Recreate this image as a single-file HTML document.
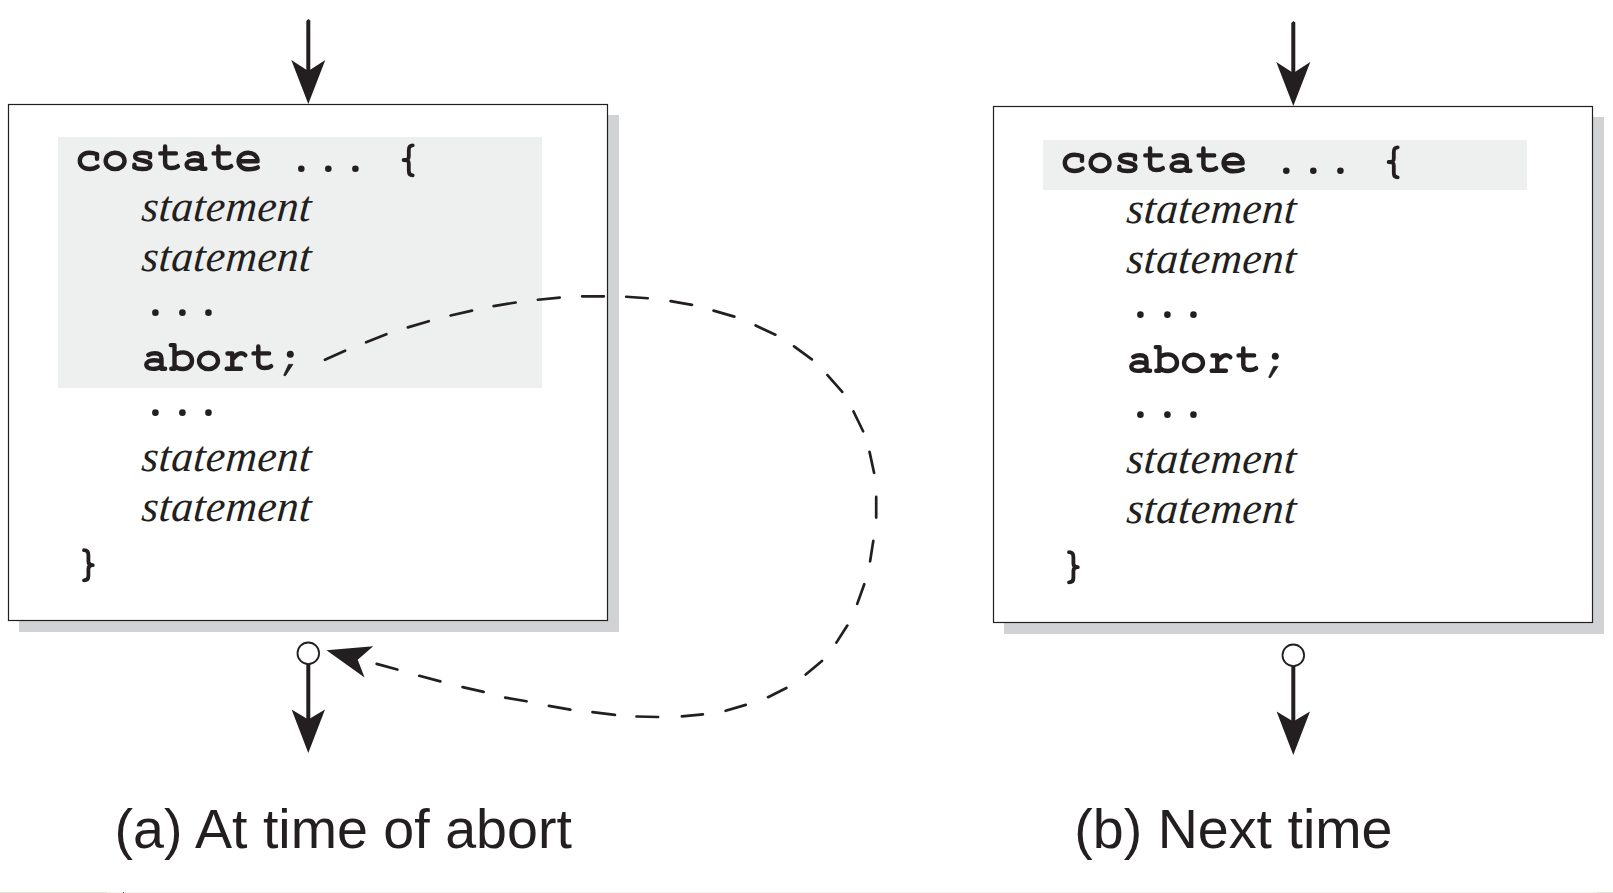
<!DOCTYPE html>
<html><head><meta charset="utf-8"><style>
html,body{margin:0;padding:0;background:#fff;width:1613px;height:893px;overflow:hidden}
svg{display:block}
.m{font-family:"Liberation Mono",monospace;font-size:38px;fill:#231f20;stroke:#231f20;stroke-width:1.2px;stroke-linejoin:round;white-space:pre}
.s{font-family:"Liberation Serif",serif;font-style:italic;font-size:43.5px;letter-spacing:0.35px;fill:#231f20}
.c{font-family:"Liberation Sans",sans-serif;font-size:55.6px;fill:#231f20}
</style></head><body>
<svg width="1613" height="893" viewBox="0 0 1613 893">
<defs><path id="gc" d="M8 -12.4 L8 -17 C5.5 -18 3 -18.5 0 -18.5 C-5.5 -18.5 -9.2 -14.9 -9.2 -10.35 C-9.2 -5.7 -5.5 -2.2 0.5 -2.2 C3.5 -2.2 6.5 -3 8.6 -4.6" fill="none" stroke="#231f20" stroke-width="4.4" stroke-linecap="round" stroke-linejoin="round"/><path id="go" d="M9.45 -10.2 C9.45 -14.9 5.3 -18.5 0 -18.5 C-5.3 -18.5 -9.45 -14.9 -9.45 -10.2 C-9.45 -5.6 -5.3 -2.1 0 -2.1 C5.3 -2.1 9.45 -5.6 9.45 -10.2 Z" fill="none" stroke="#231f20" stroke-width="4.4" stroke-linecap="round" stroke-linejoin="round"/><path id="gs" d="M7.6 -14 L7.6 -17.2 C5.5 -18.2 3 -18.5 0 -18.5 C-4.8 -18.5 -7.3 -16.8 -7.3 -14.6 C-7.3 -12 -4.5 -11.8 0 -10.7 C4.5 -9.6 8 -9 8 -6 C8 -3.5 4.8 -2.2 0 -2.2 C-3.5 -2.2 -6 -2.7 -8 -3.8 L-8 -6.5" fill="none" stroke="#231f20" stroke-width="4.4" stroke-linecap="round" stroke-linejoin="round"/><path id="gt" d="M0 -24.7 L0 -8.5 C0 -4.6 2.4 -3.2 6.4 -3.2 C9 -3.2 11.2 -3.8 12.8 -5 M-4.8 -17.8 L10.8 -17.8" fill="none" stroke="#231f20" stroke-width="4.4" stroke-linecap="round" stroke-linejoin="round"/><path id="ga" d="M-13.2 -16.2 C-11 -17.5 -8.8 -18 -6.5 -18 C-2.2 -18 0 -16.2 0 -12.5 L0 -2.4 L3.6 -2.4 M0 -9.5 C-2.5 -10.6 -5 -11 -7.5 -11 C-12.5 -11 -15.2 -9 -15.2 -6.6 C-15.2 -3.8 -12.5 -2.3 -8.5 -2.3 C-5 -2.3 -2.2 -3.3 0 -5" fill="none" stroke="#231f20" stroke-width="4.4" stroke-linecap="round" stroke-linejoin="round"/><path id="ge" d="M-9.6 -10 L9.5 -10 C9.5 -15 5.5 -18.5 0 -18.5 C-5.5 -18.5 -9.5 -14.8 -9.5 -10.2 C-9.5 -5.4 -5.5 -1.9 0.5 -1.9 C4 -1.9 7 -2.6 9.6 -3.8" fill="none" stroke="#231f20" stroke-width="4.4" stroke-linecap="round" stroke-linejoin="round"/><path id="gb" d="M-3.7 -26.1 L0 -26.1 L0 -2.45 L-3.2 -2.45 M0 -15.5 C2 -17.8 5 -18.8 8.5 -18.8 C13.8 -18.8 17.5 -15.3 17.5 -10.5 C17.5 -5.7 13.8 -2.2 8.5 -2.2 C5 -2.2 2 -3.2 0 -5.5" fill="none" stroke="#231f20" stroke-width="4.4" stroke-linecap="round" stroke-linejoin="round"/><path id="gr" d="M-4.8 -17.7 L0 -17.7 L0 -2.4 M-5.6 -2.4 L8.6 -2.4 M0 -11.5 C2.5 -15 5.5 -18 9 -18 C10.5 -18 12 -17.2 13 -16" fill="none" stroke="#231f20" stroke-width="4.4" stroke-linecap="round" stroke-linejoin="round"/></defs>
<rect x="19" y="115" width="600" height="517" fill="#d1d2d4"/>
<rect x="8.5" y="104.5" width="599" height="516" fill="#fff" stroke="#231f20" stroke-width="1.2"/>
<rect x="58" y="137" width="484" height="251" fill="#eef0ef"/>
<use href="#gc" x="89" y="171.2"/>
<use href="#go" x="115.1" y="171.2"/>
<use href="#gs" x="142.4" y="171.2"/>
<use href="#gt" x="165.1" y="171.2"/>
<use href="#ga" x="201.8" y="171.2"/>
<use href="#gt" x="218.4" y="171.2"/>
<use href="#ge" x="248.1" y="171.2"/>
<path transform="translate(0,0)" d="M412.7 145.3 C410 145.3 408.8 147 408.8 150 L408.8 156.5 C408.8 159 407.5 160 403.6 160 C407.5 160 408.8 161 408.8 163.5 L408.8 171 C408.8 174 410 175.3 412.7 175.3" fill="none" stroke="#231f20" stroke-width="3.8" stroke-linecap="round" stroke-linejoin="round"/>
<circle cx="301.3" cy="168.8" r="3.3" fill="#231f20"/>
<circle cx="328.3" cy="168.8" r="3.3" fill="#231f20"/>
<circle cx="355.4" cy="168.8" r="3.3" fill="#231f20"/>
<circle cx="155.4" cy="312.65" r="3.3" fill="#231f20"/>
<circle cx="182.4" cy="312.65" r="3.3" fill="#231f20"/>
<circle cx="208.45" cy="312.65" r="3.3" fill="#231f20"/>
<circle cx="155.4" cy="412.65" r="3.3" fill="#231f20"/>
<circle cx="182.4" cy="412.65" r="3.3" fill="#231f20"/>
<circle cx="208.45" cy="412.65" r="3.3" fill="#231f20"/>
<g transform="translate(140.8,221.3) skewX(-4.5)"><text class="s">statement</text></g>
<g transform="translate(140.8,271.2) skewX(-4.5)"><text class="s">statement</text></g>
<use href="#ga" x="161.5" y="371.2"/>
<use href="#gb" x="174.5" y="371.2"/>
<use href="#go" x="208.5" y="371.2"/>
<use href="#gr" x="232.3" y="371.2"/>
<use href="#gt" x="258.3" y="371.2"/>
<circle cx="290.3" cy="354.3" r="3.5" fill="#231f20"/>
<path d="M288.6 364.4 L292.9 364.4 L285.4 375.8 L283.7 375.3 Z" fill="#231f20" stroke="#231f20" stroke-width="0.8" stroke-linejoin="round"/>
<g transform="translate(140.8,471.2) skewX(-4.5)"><text class="s">statement</text></g>
<g transform="translate(140.8,521.2) skewX(-4.5)"><text class="s">statement</text></g>
<path transform="translate(0,0)" d="M84 550.2 C86.7 550.2 88.4 551.9 88.4 555 L88.4 561.5 C88.4 564 89.7 565.2 92.8 565.2 C89.7 565.2 88.4 566.4 88.4 569 L88.4 576 C88.4 579 86.7 580.3 84 580.3" fill="none" stroke="#231f20" stroke-width="3.8" stroke-linecap="round" stroke-linejoin="round"/>
<path d="M306.3 21 L308.3 19 L310.3 20.5 L310.3 75 L306.3 75 Z" fill="#231f20"/>
<path d="M308.3 104 L291.3 60 L308.3 71 L325.3 60 Z" fill="#231f20"/>
<line x1="308.3" y1="664" x2="308.3" y2="725" stroke="#231f20" stroke-width="4"/>
<circle cx="308.3" cy="653.3" r="10.8" fill="#fff" stroke="#231f20" stroke-width="1.8"/>
<path d="M308.3 753 L291.6 709.4 L308.3 719.6 L325.0 709.4 Z" fill="#231f20"/>
<rect x="1004" y="117" width="600" height="517" fill="#d1d2d4"/>
<rect x="993.5" y="106.5" width="599" height="516" fill="#fff" stroke="#231f20" stroke-width="1.2"/>
<rect x="1043" y="140" width="484" height="50" fill="#eef0ef"/>
<use href="#gc" x="1074" y="173.2"/>
<use href="#go" x="1100.1" y="173.2"/>
<use href="#gs" x="1127.4" y="173.2"/>
<use href="#gt" x="1150.1" y="173.2"/>
<use href="#ga" x="1186.8" y="173.2"/>
<use href="#gt" x="1203.4" y="173.2"/>
<use href="#ge" x="1233.1" y="173.2"/>
<path transform="translate(985,2)" d="M412.7 145.3 C410 145.3 408.8 147 408.8 150 L408.8 156.5 C408.8 159 407.5 160 403.6 160 C407.5 160 408.8 161 408.8 163.5 L408.8 171 C408.8 174 410 175.3 412.7 175.3" fill="none" stroke="#231f20" stroke-width="3.8" stroke-linecap="round" stroke-linejoin="round"/>
<circle cx="1286.3" cy="170.8" r="3.3" fill="#231f20"/>
<circle cx="1313.3" cy="170.8" r="3.3" fill="#231f20"/>
<circle cx="1340.4" cy="170.8" r="3.3" fill="#231f20"/>
<circle cx="1140.4" cy="314.65" r="3.3" fill="#231f20"/>
<circle cx="1167.4" cy="314.65" r="3.3" fill="#231f20"/>
<circle cx="1193.45" cy="314.65" r="3.3" fill="#231f20"/>
<circle cx="1140.4" cy="414.65" r="3.3" fill="#231f20"/>
<circle cx="1167.4" cy="414.65" r="3.3" fill="#231f20"/>
<circle cx="1193.45" cy="414.65" r="3.3" fill="#231f20"/>
<g transform="translate(1125.8,223.3) skewX(-4.5)"><text class="s">statement</text></g>
<g transform="translate(1125.8,273.2) skewX(-4.5)"><text class="s">statement</text></g>
<use href="#ga" x="1146.5" y="373.2"/>
<use href="#gb" x="1159.5" y="373.2"/>
<use href="#go" x="1193.5" y="373.2"/>
<use href="#gr" x="1217.3" y="373.2"/>
<use href="#gt" x="1243.3" y="373.2"/>
<circle cx="1275.3" cy="356.3" r="3.5" fill="#231f20"/>
<path d="M1273.6 366.4 L1277.9 366.4 L1270.4 377.8 L1268.7 377.3 Z" fill="#231f20" stroke="#231f20" stroke-width="0.8" stroke-linejoin="round"/>
<g transform="translate(1125.8,473.2) skewX(-4.5)"><text class="s">statement</text></g>
<g transform="translate(1125.8,523.2) skewX(-4.5)"><text class="s">statement</text></g>
<path transform="translate(985,2)" d="M84 550.2 C86.7 550.2 88.4 551.9 88.4 555 L88.4 561.5 C88.4 564 89.7 565.2 92.8 565.2 C89.7 565.2 88.4 566.4 88.4 569 L88.4 576 C88.4 579 86.7 580.3 84 580.3" fill="none" stroke="#231f20" stroke-width="3.8" stroke-linecap="round" stroke-linejoin="round"/>
<path d="M1291.3 23 L1293.3 21 L1295.3 22.5 L1295.3 77 L1291.3 77 Z" fill="#231f20"/>
<path d="M1293.3 106 L1276.3 62 L1293.3 73 L1310.3 62 Z" fill="#231f20"/>
<line x1="1293.3" y1="666" x2="1293.3" y2="727" stroke="#231f20" stroke-width="4"/>
<circle cx="1293.3" cy="655.3" r="10.8" fill="#fff" stroke="#231f20" stroke-width="1.8"/>
<path d="M1293.3 755 L1276.6 711.4 L1293.3 721.6 L1310.0 711.4 Z" fill="#231f20"/>
<path d="M324.94 359.71 L345.06 350.69 M366.15 342.24 L386.35 334.26 M407.87 327.4 L428.73 321.2 M450.58 315.54 L472.02 310.56 M493.59 306.09 L515.61 302.51 M537.9 299.73 L559.7 297.57 M582.1 296.3 L603.9 296.3 M626.2 296.75 L647.7 298.25 M670.59 301.12 L692.01 304.88 M713.57 310.59 L734.33 316.61 M755.63 325.5 L775.37 334.7 M794.06 346.31 L811.84 359.39 M827.46 375.12 L842.24 391.88 M853.51 411.53 L863.09 431.27 M869.55 451.88 L874.05 472.82 M876.2 496.9 L876.2 517.6 M873.29 540.89 L870.11 561.31 M864.26 584.26 L857.24 603.84 M847.32 625.59 L836.38 642.61 M821.96 660.95 L805.74 674.55 M786.37 688.01 L768.03 697.19 M745.73 704.9 L725.67 710.8 M702.9 714.37 L681.9 716.43 M658.1 716.98 L636.5 716.52 M614.91 714.91 L592.49 712.09 M570.31 709.68 L548.89 705.92 M526.61 701.28 L505.19 697.62 M483.62 691.85 L462.58 687.15 M440.32 681.42 L419.28 675.78 M397.32 669.52 L376.68 663.88" fill="none" stroke="#231f20" stroke-width="2.7" stroke-linecap="round"/>
<path d="M326.5 650.2 L373.2 646.3 L357.7 659.8 L364.6 677.6 Z" fill="#231f20"/>
<rect x="0" y="892" width="1613" height="1" fill="#f4f2ea"/>
<rect x="0" y="892" width="107" height="1" fill="#e8e5d8"/>
<rect x="1597" y="892" width="16" height="1" fill="#e8e5d8"/>
<rect x="123" y="892" width="1" height="1" fill="#555"/>
<g transform="translate(114.6,848)"><text class="c">(a) At time of abort</text></g>
<g transform="translate(1074.3,848)"><text class="c">(b) Next time</text></g>
</svg>
</body></html>
